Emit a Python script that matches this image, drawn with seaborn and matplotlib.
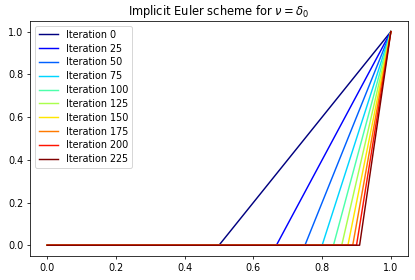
import matplotlib
matplotlib.use("Agg")
import matplotlib.pyplot as plt
import seaborn as sns
import pandas as pd
import numpy as np

# iteration numbers shown in the legend
iterations = [0, 25, 50, 75, 100, 125, 150, 175, 200, 225]
# x where each profile leaves zero
x_start = [0.5, 0.667, 0.75, 0.8, 0.833, 0.857, 0.875, 0.889, 0.9, 0.909]

rows = []
for it, s in zip(iterations, x_start):
    for x, y in [(0.0, 0.0), (s, 0.0), (1.0, 1.0)]:
        rows.append({"x": x, "y": y, "label": "Iteration %d" % it})
df = pd.DataFrame(rows)

colors = plt.cm.jet(np.linspace(0, 1, len(iterations)))

plt.rcParams["font.size"] = 10
fig, ax = plt.subplots(figsize=(6, 4.04), dpi=69.33)
for i, it in enumerate(iterations):
    lab = "Iteration %d" % it
    sns.lineplot(data=df[df["label"] == lab], x="x", y="y", color=colors[i],
                 label=lab, sort=False, ax=ax)
ax.set_xlabel("")
ax.set_ylabel("")
ax.set_title(r"Implicit Euler scheme for $\nu = \delta_0$")
ax.legend(loc="upper left", labelspacing=0.4)
fig.subplots_adjust(left=0.072, right=0.981, top=0.925, bottom=0.086)
fig.savefig("out.png", dpi=69.33)
